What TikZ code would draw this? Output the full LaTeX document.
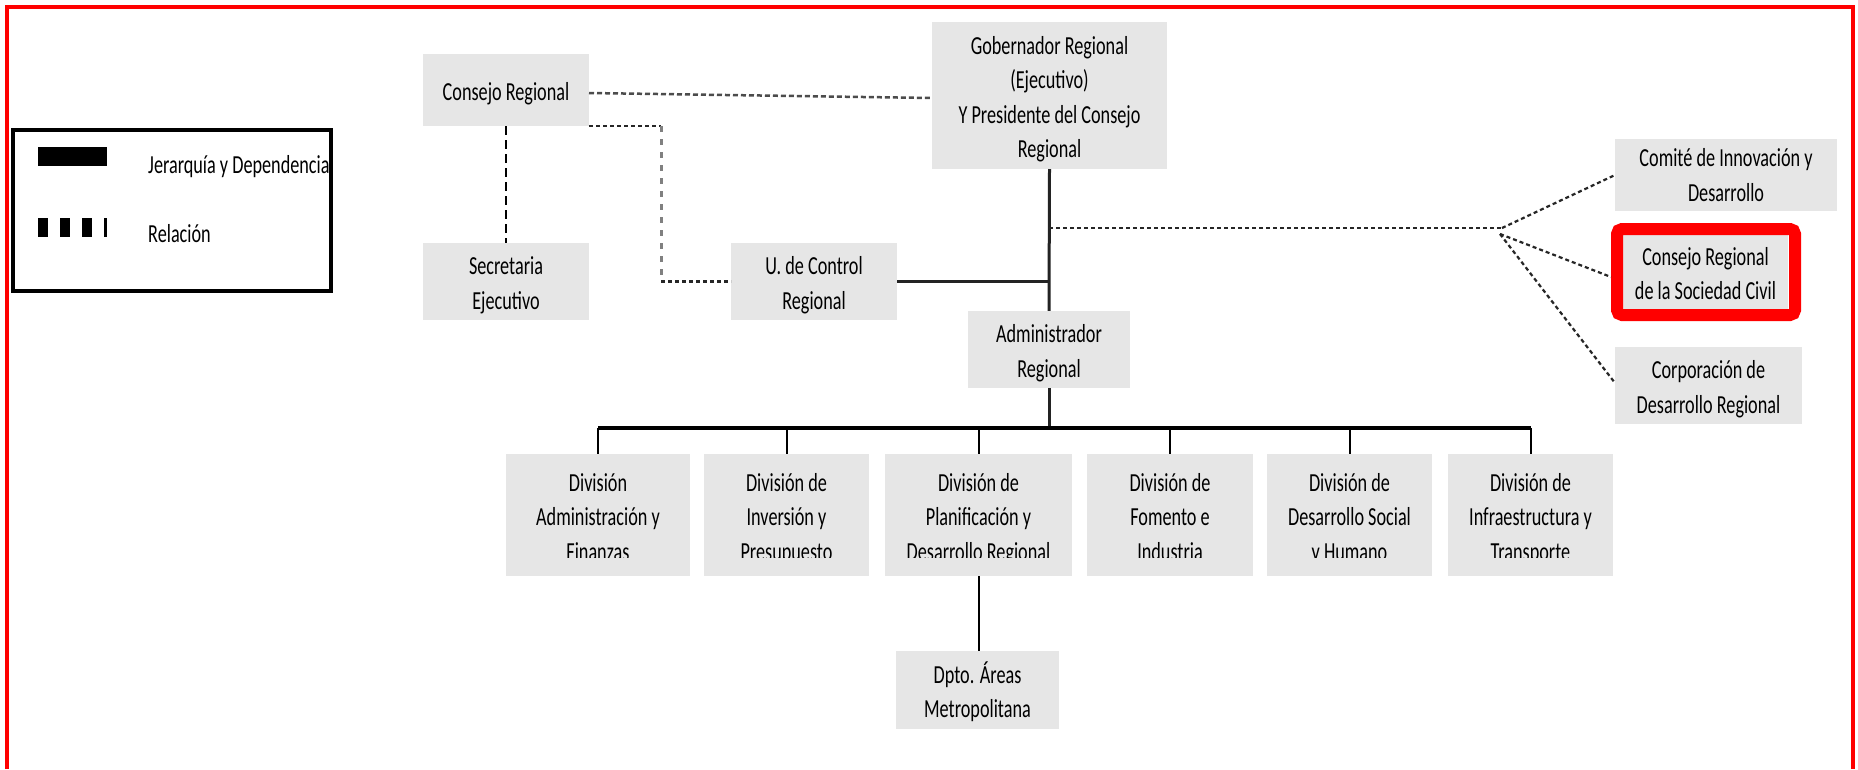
\documentclass[tikz,border=0pt]{standalone}
\usepackage{fontspec}
\setmainfont{Carlito}[FakeStretch=0.7]
\usetikzlibrary{calc}
\definecolor{boxgray}{RGB}{230,230,230}
\definecolor{lineDark}{RGB}{35,35,35}
\definecolor{dashGray}{RGB}{128,128,128}
\newcommand\boxtopstrut{\rule{0pt}{32pt}}
\newcommand\boxbotstrut{\rule[-11pt]{0pt}{11pt}}
\begin{document}
\begin{tikzpicture}[x=1pt,y=-1pt,
  every node/.style={font=\fontsize{26pt}{34.5pt}\selectfont, text=black},
  box/.style={fill=boxgray, inner sep=0pt, outer sep=0pt, align=center},
  divbox/.style={box, minimum height=122pt},
  vline/.style={draw=lineDark, line width=3pt},
  busline/.style={draw=black, line width=4pt},
  drop/.style={draw=black, line width=2pt},
  ctrlline/.style={draw=lineDark, line width=3pt},
  reldot/.style={draw=black!85, line width=2.2pt, dash pattern=on 4pt off 3pt},
  relcs/.style={draw=black, line width=2pt, dash pattern=on 9pt off 5pt},
  relgray/.style={draw=dashGray, line width=3pt, dash pattern=on 6pt off 7pt},
  relgov/.style={draw=black!70, line width=2.5pt, dash pattern=on 5pt off 3pt}]
\useasboundingbox (0,0) rectangle (1858,769);
\fill[white] (0,0) rectangle (1858,769);

% ---------- boxes ----------
\node[box, minimum width=166pt, minimum height=72pt] (consejo) at (506,90) {\boxtopstrut Consejo Regional\boxbotstrut};
\node[box, minimum width=166pt, minimum height=73pt] (secret) at (506,281.5) {\boxtopstrut Secretaria\\Ejecutivo\boxbotstrut};
\node[box, minimum width=166pt, minimum height=73pt] (control) at (814,281.5) {\boxtopstrut U. de Control\\Regional\boxbotstrut};
\node[box, minimum width=235pt, minimum height=147pt] (gober) at (1049.5,95.5) {\boxtopstrut Gobernador Regional\\(Ejecutivo)\\Y Presidente del Consejo\\Regional\boxbotstrut};
\node[box, minimum width=162pt, minimum height=71pt] (admin) at (1049,349.5) {\boxtopstrut Administrador\\Regional\boxbotstrut};
\node[box, minimum width=222pt, minimum height=72pt] (comite) at (1726,175) {Comité de Innovación y\\Desarrollo};
\node[box, minimum width=165pt, minimum height=74pt] (civil) at (1705.5,272) {\boxtopstrut Consejo Regional\\de la Sociedad Civil\boxbotstrut};
\node[draw=red, line width=12pt, rounded corners=5pt, minimum width=178pt, minimum height=86pt, inner sep=0pt] (civilframe) at (1706,272) {};
\node[box, minimum width=187pt, minimum height=75pt] (corpor) at (1708.5,385.5) {\boxtopstrut Corporación de\\Desarrollo Regional\boxbotstrut};

\node[divbox, minimum width=184pt] (d1) at (598,515) {\boxtopstrut División\\Administración y\\Finanzas\boxbotstrut};
\node[divbox, minimum width=165pt] (d2) at (786.5,515) {\boxtopstrut División de\\Inversión y\\Presupuesto\boxbotstrut};
\node[divbox, minimum width=187pt] (d3) at (978.5,515) {\boxtopstrut División de\\Planificación y\\Desarrollo Regional\boxbotstrut};
\node[divbox, minimum width=166pt] (d4) at (1170,515) {\boxtopstrut División de\\Fomento e\\Industria\boxbotstrut};
\node[divbox, minimum width=165pt] (d5) at (1349.5,515) {\boxtopstrut División de\\Desarrollo Social\\y Humano\boxbotstrut};
\node[divbox, minimum width=165pt] (d6) at (1530.5,515) {\boxtopstrut División de\\Infraestructura y\\Transporte\boxbotstrut};
\foreach \d in {d1,d2,d3,d4,d5,d6}
  \fill[boxgray] ([yshift=18pt]\d.south west) rectangle (\d.south east);
\node[box, minimum width=163pt, minimum height=72pt] (dpto) at (977.5,690) {\boxtopstrut Dpto. Áreas\\Metropolitana\boxbotstrut};

% ---------- coordinates ----------
\coordinate (busy) at (1049,428);
\coordinate (gj) at (1049,228);
\coordinate (J) at (1502,228);
\coordinate (J2) at (1500,234);
\coordinate (cc1) at (661,126);

% ---------- hierarchy ----------
\draw[vline] (gober.south) -- (admin.north);
\draw[vline] (admin.south) -- (admin.south |- busy);
\draw[busline] (d1.north |- busy) -- (d6.north |- busy);
\foreach \d in {d1,d2,d3,d4,d5,d6}
  \draw[drop] (\d.north |- busy) -- (\d.north);
\draw[drop] (d3.south) -- (d3.south |- dpto.north);
\draw[ctrlline] (control.east) -- (gober.south |- control.east);

% ---------- relations ----------
\draw[relgov] ([yshift=-3pt]consejo.east) -- ([yshift=-2.5pt]gober.west);
\draw[relcs] (consejo.south) -- (secret.north);
\draw[reldot] (consejo.south east) -- (cc1);
\draw[relgray] (cc1) -- (cc1 |- control.west);
\draw[reldot] (cc1 |- control.west) -- (control.west);
\draw[reldot] (gj) -- (J);
\draw[reldot] (J) -- (comite.west);
\draw[reldot] (J2) -- ([yshift=-5pt]civilframe.west);
\draw[reldot] (J2) -- ([yshift=2.5pt]corpor.west);

% ---------- legend ----------
\draw[black, line width=4pt] (13,130) rectangle (331,291);
\fill[black] (38,147) rectangle (107,166);
\draw[black, line width=19pt, dash pattern=on 10pt off 12pt] (38,227.5) -- (107,227.5);
\node[anchor=base west, inner sep=0pt] (lg1) at (148,173) {Jerarquía y Dependencia};
\node[anchor=base west, inner sep=0pt] (lg2) at (148,242) {Relación};

% ---------- outer frame ----------
\draw[red, line width=3.5pt] (7,769) -- (7,7) -- (1853,7) -- (1853,769);
\end{tikzpicture}
\end{document}
